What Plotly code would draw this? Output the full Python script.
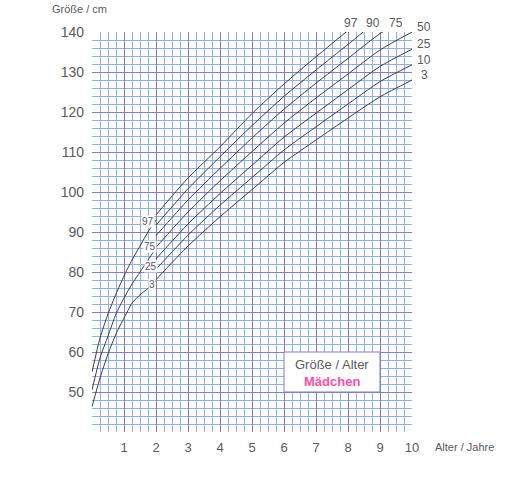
import plotly.graph_objects as go

# ---- data ----
infant_age = [0, 0.25, 0.5, 0.75, 1, 1.25, 1.5, 1.75, 2]
infant_p97 = [55.0, 63.5, 69.5, 74.5, 79.0, 83.0, 86.5, 90.0, 93.0]
infant_p50 = [50.5, 58.5, 64.0, 69.5, 73.5, 77.0, 80.0, 83.0, 86.0]
infant_p3 = [46.3, 53.5, 59.5, 64.5, 68.5, 72.2, 74.3, 75.9, 77.8]

child_age = [2, 3, 4, 5, 6, 7, 8, 9, 10]
p3 = [78.1, 86.5, 93.8, 100.6, 107.4, 113.0, 118.5, 123.8, 128.0]
p10 = [80.7, 89.2, 96.7, 103.6, 110.5, 116.3, 122.0, 127.6, 131.8]
p25 = [83.3, 92.0, 99.6, 106.7, 113.7, 119.7, 125.6, 131.4, 135.7]
p50 = [86.2, 95.0, 102.8, 110.1, 117.2, 123.5, 129.5, 135.5, 140.0]
p75 = [89.1, 98.0, 105.9, 113.5, 120.7, 127.2, 133.4, 139.6, 144.3]
p90 = [91.7, 100.8, 108.8, 116.6, 123.9, 130.5, 136.9, 143.3, 148.2]
p97 = [94.3, 103.5, 111.3, 119.6, 127.0, 133.8, 140.4, 147.0, 152.0]

x_ticks = [1, 2, 3, 4, 5, 6, 7, 8, 9, 10]
y_ticks = [50, 60, 70, 80, 90, 100, 110, 120, 130, 140]

LINE = "#3c3c3c"
MINOR = "#8fb0ea"
MAJOR = "#7f7fcc"
TXT = "#5a5a5a"
FONT = "Arial, Liberation Sans, sans-serif"

fig = go.Figure()
for ys in (infant_p97, infant_p50, infant_p3):
    fig.add_trace(go.Scatter(x=infant_age, y=ys, mode="lines", line=dict(color=LINE, width=1, shape="spline", smoothing=0.6), hoverinfo="skip"))
child = {"3": p3, "10": p10, "25": p25, "50": p50, "75": p75, "90": p90, "97": p97}
for name, ys in child.items():
    fig.add_trace(go.Scatter(x=child_age, y=ys, mode="lines", line=dict(color=LINE, width=1, shape="spline", smoothing=0.6), hoverinfo="skip"))

# box
fig.add_shape(type="rect", x0=6, x1=9, y0=50, y1=60, fillcolor="white", line=dict(color=MAJOR, width=1), layer="above")

ann = []
ann.append(dict(x=7.5, y=56.8, xref="x", yref="y", text="Größe / Alter", showarrow=False, font=dict(family=FONT, size=13, color=TXT)))
ann.append(dict(x=7.5, y=52.6, xref="x", yref="y", text="<b>Mädchen</b>", showarrow=False, font=dict(family=FONT, size=13, color="#ff4da6")))
# axis titles
ann.append(dict(x=-0.131, y=1.0575, xref="paper", yref="paper", xanchor="left", yanchor="middle", text="Größe / cm", showarrow=False, font=dict(family=FONT, size=11, color=TXT)))
ann.append(dict(x=1.066, y=-0.0375, xref="paper", yref="paper", xanchor="left", yanchor="middle", text="Alter / Jahre", showarrow=False, font=dict(family=FONT, size=11, color=TXT)))
# right-side labels
for name in ["50", "25", "10", "3"]:
    ann.append(dict(x=10, y=child[name][-1], xref="x", yref="y", xanchor="center", yanchor="middle", xshift=12, yshift=5, text=name, showarrow=False, font=dict(family=FONT, size=12, color=TXT)))
for name, px in [("97", 0.809), ("90", 0.878), ("75", 0.95)]:
    ann.append(dict(x=px, y=1.0225, xref="paper", yref="paper", xanchor="center", yanchor="middle", text=name, showarrow=False, font=dict(family=FONT, size=12, color=TXT)))
# left-side labels
for name, ax, ay in [("97", 1.76, 92.6), ("75", 1.81, 86.5), ("25", 1.84, 81.5), ("3", 1.86, 77.0)]:
    ann.append(dict(x=ax, y=ay, xref="x", yref="y", xanchor="center", yanchor="middle", text=name, showarrow=False, bgcolor="white", borderpad=0, font=dict(family=FONT, size=10, color=TXT)))

fig.update_layout(
    width=515, height=500, autosize=False,
    margin=dict(l=92, r=103, t=32, b=68, pad=0),
    paper_bgcolor="white", plot_bgcolor="white",
    showlegend=False, annotations=ann,
    xaxis=dict(range=[0, 10], tickmode="array", tickvals=x_ticks, ticktext=[str(v) for v in x_ticks],
               showgrid=True, gridcolor=MAJOR, gridwidth=1, zeroline=False, showline=False,
               ticks="", ticklabelstandoff=6, tickfont=dict(family=FONT, size=13, color=TXT),
               minor=dict(tickmode="linear", tick0=0, dtick=0.25, showgrid=True, gridcolor=MINOR, gridwidth=1),
               fixedrange=True),
    yaxis=dict(range=[40, 140], tickmode="array", tickvals=y_ticks, ticktext=[str(v) for v in y_ticks],
               showgrid=True, gridcolor=MAJOR, gridwidth=1, zeroline=False, showline=False,
               ticks="", ticklabelstandoff=7, tickfont=dict(family=FONT, size=14, color=TXT),
               minor=dict(tickmode="linear", tick0=40, dtick=2, showgrid=True, gridcolor=MINOR, gridwidth=1),
               fixedrange=True),
)
fig.write_html("out.html", config={"displayModeBar": False},
               post_script="document.body.style.margin='0';document.body.style.overflow='hidden';")
